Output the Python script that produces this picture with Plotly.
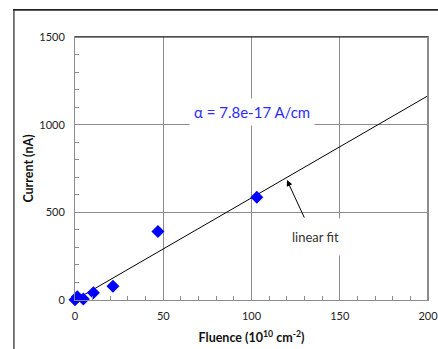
import plotly.graph_objects as go

# Data
fluence = [0, 1.3, 4.7, 10.4, 21.5, 47, 103]
current = [2, 19, 6, 42, 78, 390, 586]
fit_x = [0, 200]
fit_y = [0, 1165]

x_ticks = [0, 50, 100, 150, 200]
y_ticks = [0, 500, 1000, 1500]

FONT = "Lato, 'Open Sans', sans-serif"

fig = go.Figure()
fig.add_trace(go.Scatter(x=fit_x, y=fit_y, mode="lines",
                         line=dict(color="black", width=1), showlegend=False))
fig.add_trace(go.Scatter(x=fluence, y=current, mode="markers",
                         marker=dict(symbol="diamond", size=10, color="#0000FF"),
                         showlegend=False, cliponaxis=False))

axis_common = dict(showgrid=True, gridcolor="#8c8c8c", gridwidth=1, zeroline=False,
                   showline=True, linecolor="#8c8c8c", linewidth=1, mirror=True,
                   ticks="inside", ticklen=4, tickcolor="#8c8c8c",
                   ticklabeloverflow="allow", automargin=False)

fig.update_layout(
    width=438, height=349,
    margin=dict(l=75, r=10, t=37, b=49),
    paper_bgcolor="white", plot_bgcolor="white",
    font=dict(family=FONT, size=11, color="#222"),
    xaxis=dict(range=[0, 200], tickvals=x_ticks, ticklabelstandoff=6,
               minor=dict(dtick=10, ticks="inside", ticklen=4, tickcolor="#8c8c8c", showgrid=False),
               title=dict(text="<b>Fluence (10<sup>10</sup> cm<sup>-2</sup>)</b>",
                          font=dict(size=12.5, color="#111"), standoff=12),
               **axis_common),
    yaxis=dict(range=[0, 1500], tickvals=y_ticks, ticklabelstandoff=7,
               minor=dict(dtick=100, ticks="inside", ticklen=4, tickcolor="#8c8c8c", showgrid=False),
               title=dict(text="<b>Current (nA)</b>", font=dict(size=12.5, color="#111"), standoff=2),
               **axis_common),
    shapes=[
        dict(type="line", xref="paper", yref="paper", x0=0, x1=1, y0=1, y1=1,
             line=dict(color="#111", width=1)),
        dict(type="line", xref="paper", yref="paper", x0=1, x1=1, y0=0, y1=1,
             line=dict(color="#8c8c8c", width=2)),
        dict(type="rect", xref="paper", yref="paper", x0=-0.175, x1=1.06, y0=1.1, y1=1.106,
             fillcolor="#222", line=dict(width=0), layer="above"),
        dict(type="line", xref="paper", yref="paper", x0=-0.173, x1=-0.173, y0=-0.25, y1=1.106,
             line=dict(color="#222", width=1.2), layer="above"),
    ],
    annotations=[
        dict(x=100, y=1070, xref="x", yref="y", text="α = 7.8e-17 A/cm", showarrow=False,
             font=dict(size=15, color="#2B2BFF", family=FONT), bgcolor="white", borderpad=4),
        dict(x=136, y=360, xref="x", yref="y", text="linear fit", showarrow=False,
             font=dict(size=13, color="#333", family=FONT), bgcolor="white", borderpad=10),
        dict(x=120.1, y=684, xref="x", yref="y", text="", showarrow=True,
             ax=18, ay=39, arrowhead=2, arrowsize=1.2, arrowwidth=1, arrowcolor="black"),
    ],
)

fig.write_html("out.html", post_script="document.body.style.margin='0';",
               config={"displayModeBar": False})
